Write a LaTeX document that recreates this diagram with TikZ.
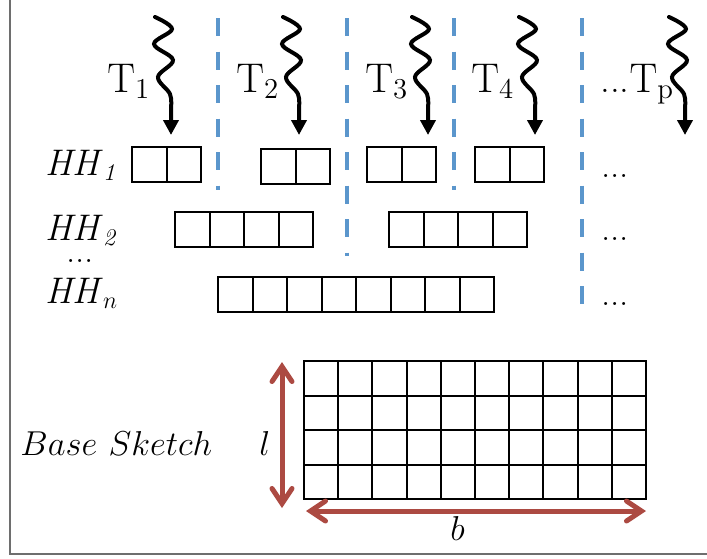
\documentclass[tikz,border=0pt]{standalone}
\usetikzlibrary{arrows.meta}
\definecolor{dashblue}{RGB}{91,150,204}
\definecolor{arrred}{RGB}{172,74,66}
\definecolor{framegray}{RGB}{110,110,110}
\begin{document}
\begin{tikzpicture}[x=0.5pt,y=-0.5pt,
  lbl/.style={inner sep=0pt,anchor=base west,font=\fontsize{19}{23}\selectfont},
  tlbl/.style={lbl,font=\fontsize{19.5}{23}\selectfont},
  hlbl/.style={lbl,font=\fontsize{18.5}{22}\selectfont},
  cell/.style={draw,line width=1pt,minimum width=17.25pt,minimum height=17.5pt,inner sep=0pt,outer sep=0pt},
  gcell/.style={draw,line width=1pt,minimum width=17.1pt,minimum height=17.25pt,inner sep=0pt,outer sep=0pt},
  sepline/.style={dashblue,line width=2pt,dash pattern=on 9pt off 7.75pt},
  wavy/.style={line width=2pt,line cap=round,-{Triangle[length=7.5pt,width=7.5pt]}},
  dimarrow/.style={arrred,line width=2.5pt,{Straight Barb[length=7.5pt,width=10pt,line cap=round]}-{Straight Barb[length=7.5pt,width=10pt,line cap=round]}},
]
\useasboundingbox (0,0) rectangle (707,558);
% frame
\draw[framegray,line width=1pt] (9.5,0) -- (9.5,554) -- (707,554);

% separators
\foreach \n/\X/\Y in {1/218/190,2/347/256,3/454/190,4/582/304}{
  \coordinate (st\n) at (\X,18);
  \coordinate (sb\n) at (\X,\Y);
  \draw[sepline] (st\n) -- (sb\n);
}

% wavy arrows
\foreach \n/\X in {1/171,2/299,3/428,4/535,5/685}{
  \coordinate (ws\n) at ({\X-16},17);
  \coordinate (wt\n) at (\X,135);
  \draw[wavy] plot[smooth,tension=0.6] coordinates {(ws\n) ({\X+1},29) ({\X-17},44) ({\X+2},60) ({\X-13},77) ({\X-1},94) (\X,108)} -- (wt\n);
}

% thread labels
\node[tlbl] (t1) at (107,92) {$\mathrm{T}_1$};
\node[tlbl] (t2) at (236,92) {$\mathrm{T}_2$};
\node[tlbl] (t3) at (365,92) {$\mathrm{T}_3$};
\node[tlbl] (t4) at (471,92) {$\mathrm{T}_4$};
\node[tlbl] (tp) at (600,92) {...$\mathrm{T}_\mathrm{p}$};

% row labels
\node[hlbl] (hh1) at (45,175) {\textit{HH}$_{\mathit{1}}$};
\node[hlbl] (hh2) at (45,240) {\textit{HH}$_{\mathit{2}}$};
\node[hlbl] (hhd) at (66,262) {...};
\node[hlbl] (hhn) at (45,303) {\textit{HH}$_{n}$};
\node[hlbl] (d1) at (601,177) {...};
\node[hlbl] (d2) at (601,240) {...};
\node[hlbl] (d3) at (601,305) {...};

% HH1 boxes
\foreach \b/\X/\Y in {a/132/164.5,b/261/166.5,c/367/164.5,d/475/164.5}{
  \foreach \i in {1,2}{
    \node[cell] (h1\b\i) at ({\X+34.5*(\i-0.5)},\Y) {};
  }
}
% HH2 boxes
\foreach \b/\X/\Y in {a/175/229.5,b/389/229}{
  \foreach \i in {1,...,4}{
    \node[cell] (h2\b\i) at ({\X+34.5*(\i-0.5)},\Y) {};
  }
}
% HHn box
\foreach \i in {1,...,8}{
  \node[cell] (hn\i) at ({218+34.5*(\i-0.5)},294.5) {};
}

% base sketch grid
\foreach \r in {1,...,4}{
  \foreach \c in {1,...,10}{
    \node[gcell] (g\r-\c) at ({304+34.2*(\c-0.5)},{361+34.5*(\r-0.5)}) {};
  }
}
\node[lbl] (bs) at (20,455) {$Base\ Sketch$};
\node[lbl] (ll) at (259,455) {$l$};
\node[lbl] (bb) at (450,540) {$b$};

\coordinate (va) at (282,362);
\coordinate (vb) at (282,508);
\coordinate (ha) at (306,511);
\coordinate (hb) at (646,511);
\draw[dimarrow] (va) -- (vb);
\draw[dimarrow] (ha) -- (hb);
\end{tikzpicture}
\end{document}
